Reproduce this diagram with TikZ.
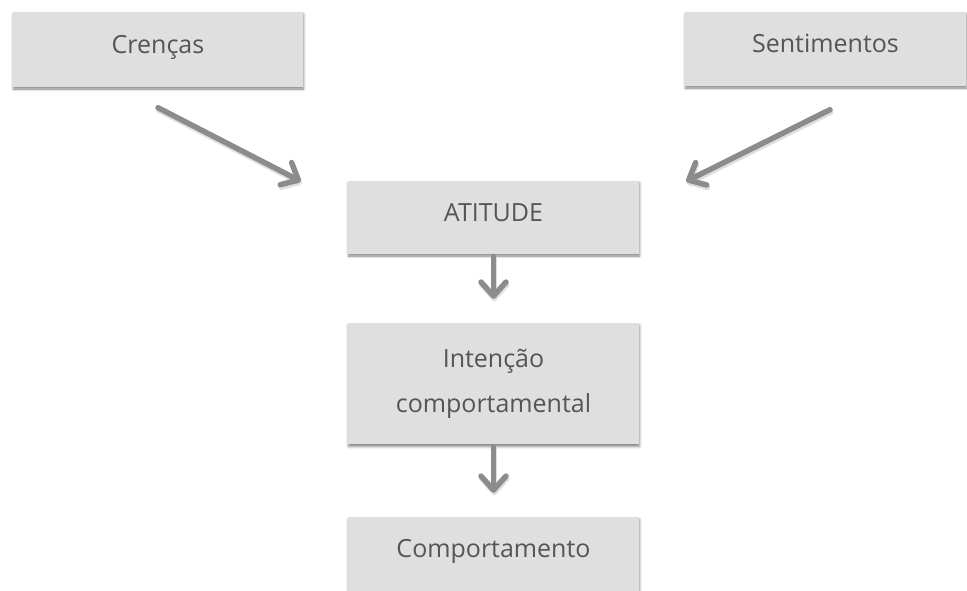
\documentclass[tikz,border=0pt]{standalone}
\usepackage{fontspec}
\setmainfont{Open Sans}
\usetikzlibrary{arrows.meta,shadows.blur,calc}
\definecolor{boxfill}{HTML}{DFDFDF}
\definecolor{boxtext}{HTML}{555555}
\definecolor{arrowgray}{HTML}{8C8C8C}

\begin{document}
\begin{tikzpicture}[x=1pt,y=-1pt,
  box/.style={rectangle, fill=boxfill, text=boxtext, inner sep=0pt,
    minimum width=291pt, minimum height=73pt,
    font=\fontsize{25}{30}\selectfont, text height=18pt, text depth=10pt,
    blur shadow={shadow xshift=0.5pt, shadow yshift=-2.5pt,
      shadow blur radius=2.5pt, shadow opacity=50}},
  flow/.style={draw=arrowgray, line width=5.5pt, line cap=round,
    -{Straight Barb[length=14pt, width=25pt, round]}},
  flowshade/.style={flow, draw=black, draw opacity=0.12,
    transform canvas={shift={(0.8pt,-2.5pt)}}},
]
\useasboundingbox (0,0) rectangle (967,590);

% boxes
\node[box, minimum width=290pt, minimum height=75pt] (cren) at (158,49) {Crenças};
\node[box, minimum width=281pt, minimum height=74pt] (sent) at (825.5,48.5) {Sentimentos};
\node[box] (atit) at (493.5,217) {ATITUDE};
\node[box, minimum height=121pt, text height=, text depth=, align=center,
      font=\fontsize{25}{45}\selectfont] (intn) at (493.5,383.5)
      {Intenção\\comportamental};
\node[box, minimum height=87pt, text height=18pt, text depth=25pt] (comp) at (493.5,560.5) {Comportamento};

% connector end points
\coordinate (c1s) at ($(cren.south)+(0,21)$);
\coordinate (c1e) at ($(atit.north west)+(-47,1)$);
\coordinate (c2s) at ($(sent.south)+(4.5,24)$);
\coordinate (c2e) at ($(atit.north east)+(47,1)$);
\coordinate (c3e) at ($(intn.north)+(0,-24)$);
\coordinate (c4e) at ($(comp.north)+(0,-24)$);

% connectors
\foreach \st in {flowshade,flow}{
  \draw[\st] (c1s) -- (c1e);
  \draw[\st] (c2s) -- (c2e);
  \draw[\st, shorten <=2.75pt] (atit.south) -- (c3e);
  \draw[\st, shorten <=2.75pt] (intn.south) -- (c4e);
}
\end{tikzpicture}
\end{document}
